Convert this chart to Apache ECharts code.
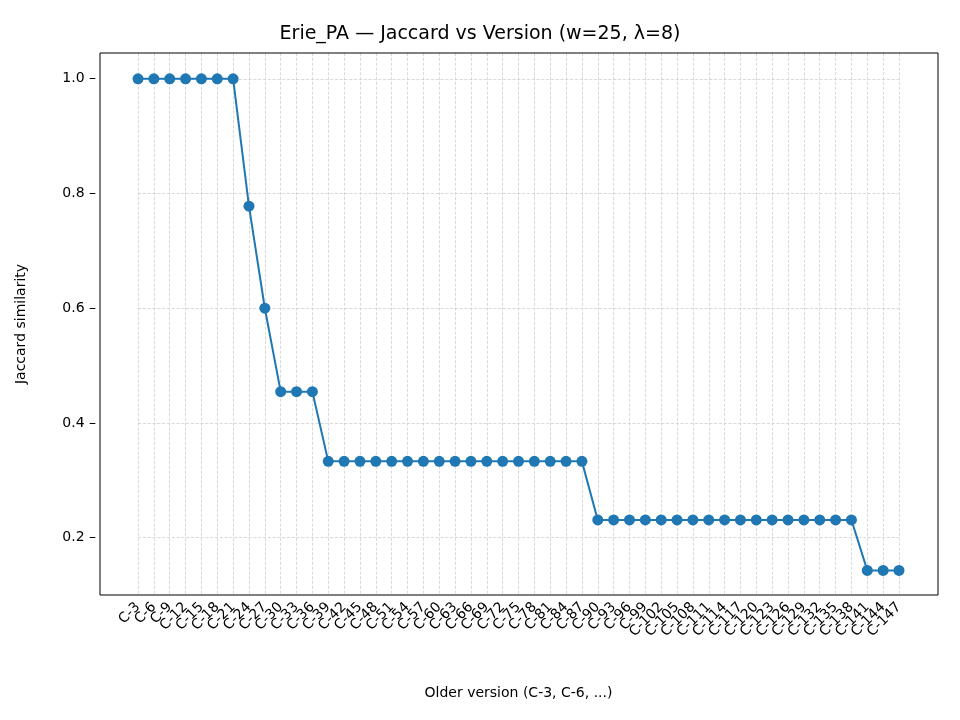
<!DOCTYPE html>
<html>
<head>
<meta charset="utf-8">
<script src="https://cdn.jsdelivr.net/npm/echarts@6/dist/echarts.min.js"></script>
<style>html,body{margin:0;padding:0;background:#fff}</style>
</head>
<body>
<div id="chart" style="width:960px;height:720px"></div>
<script>
var versions = [];
for (var v = 3; v <= 147; v += 3) versions.push('C-' + v);
var jaccard = [
  1, 1, 1, 1, 1, 1, 1,
  0.778, 0.6,
  0.4545, 0.4545, 0.4545,
  0.333, 0.333, 0.333, 0.333, 0.333, 0.333, 0.333, 0.333, 0.333,
  0.333, 0.333, 0.333, 0.333, 0.333, 0.333, 0.333, 0.333,
  0.2308, 0.2308, 0.2308, 0.2308, 0.2308, 0.2308, 0.2308, 0.2308, 0.2308,
  0.2308, 0.2308, 0.2308, 0.2308, 0.2308, 0.2308, 0.2308, 0.2308,
  0.1429, 0.1429, 0.1429
];
var yTicks = [0.2, 0.4, 0.6, 0.8, 1.0];

var font = 'DejaVu Sans';
var chart = echarts.init(document.getElementById('chart'));
chart.setOption({
  animation: false,
  textStyle: { fontFamily: font },
  title: {
    text: 'Erie_PA — Jaccard vs Version (w=25, λ=8)',
    left: 'center', top: 20,
    textStyle: { fontSize: 19, fontWeight: 'normal', color: '#000', fontFamily: font }
  },
  grid: { left: 138, right: 61, top: 53, bottom: 125 },
  graphic: [{
    type: 'rect', shape: { x: 100, y: 53, width: 838, height: 542 },
    style: { fill: 'none', stroke: '#000', lineWidth: 1 }, z: 10, silent: true
  }],
  xAxis: {
    type: 'category', data: versions, boundaryGap: false,
    name: 'Older version (C-3, C-6, ...)', nameLocation: 'middle', nameGap: 91,
    nameTextStyle: { fontSize: 14, color: '#000', fontFamily: font },
    axisLine: { show: false },
    axisTick: { show: false },
    axisLabel: { interval: 0, rotate: 45, fontSize: 14, color: '#000', margin: 10, fontFamily: font },
    splitLine: { show: true, interval: 0, lineStyle: { type: 'dashed', color: '#d0d0d0', width: 0.8 } }
  },
  yAxis: {
    type: 'value', min: 0.1, max: 1.045, interval: 0.1, offset: 38,
    name: 'Jaccard similarity', nameLocation: 'middle', nameGap: 72,
    nameTextStyle: { fontSize: 14, color: '#000', fontFamily: font },
    axisLine: { show: false }, axisTick: { show: false },
    splitLine: { show: false },
    axisLabel: {
      fontSize: 14, color: '#000', fontFamily: font, margin: 4,
      formatter: function (val) {
        var k = Math.round(val * 10);
        if (Math.abs(val * 10 - k) > 1e-6 || k % 2 !== 0) return '';
        return (k / 10).toFixed(1) + ' –';
      }
    }
  },
  series: [{
    type: 'line', data: jaccard,
    symbol: 'circle', symbolSize: 11,
    itemStyle: { color: '#1f77b4' },
    lineStyle: { color: '#1f77b4', width: 2 },
    markLine: {
      silent: true, symbol: 'none', label: { show: false },
      lineStyle: { type: 'dashed', color: '#d0d0d0', width: 0.8 },
      data: yTicks.map(function (t) { return { yAxis: t }; }),
      z: 1
    }
  }]
});
</script>
</body>
</html>
